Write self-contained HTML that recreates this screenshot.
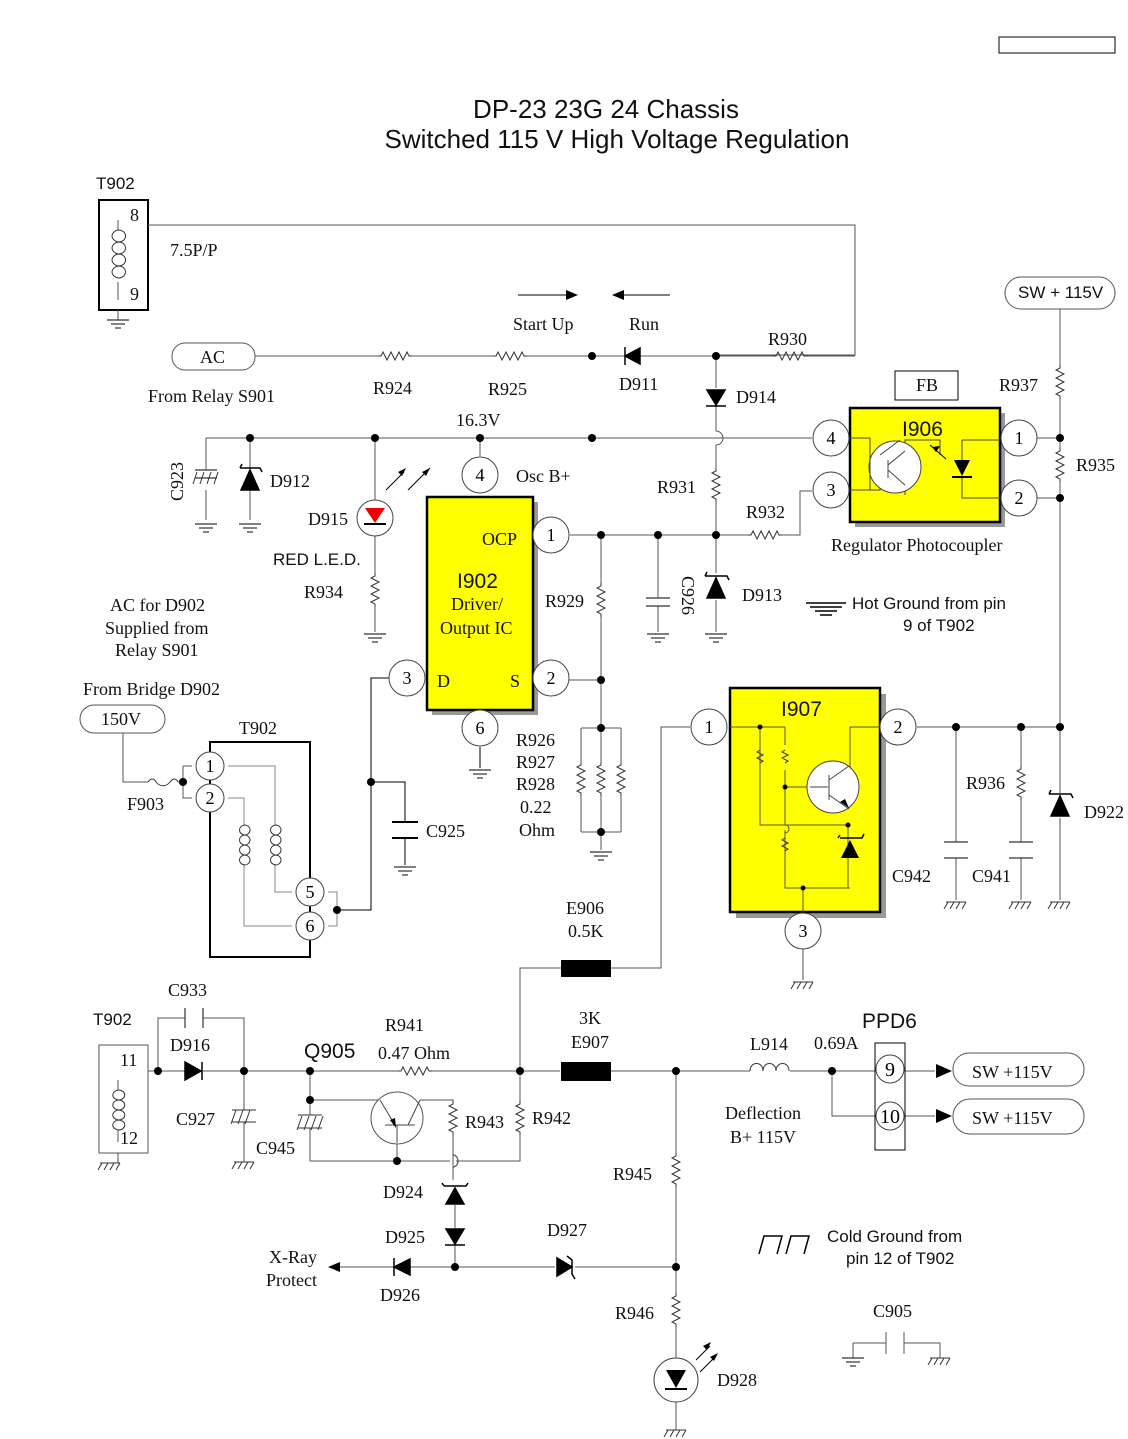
<!DOCTYPE html>
<html><head><meta charset="utf-8"><style>
html,body{margin:0;padding:0;background:#fff}
svg{display:block}
.s{font-family:"Liberation Serif",serif;font-size:18px;fill:#111}
.a{font-family:"Liberation Sans",sans-serif;fill:#111}
</style></head><body>
<svg width="1128" height="1439" viewBox="0 0 1128 1439" xmlns="http://www.w3.org/2000/svg">
<defs>
<path id="rh" d="M-17,0 h3 l2,-4 l4,8 l4,-8 l4,8 l4,-8 l4,8 l4,-8 l2,4 h3" fill="none" stroke="#333" stroke-width="1"/>
<path id="rv" d="M0,-17 v3 l-4,2 l8,4 l-8,4 l8,4 l-8,4 l8,4 l-8,4 l4,2 v3" fill="none" stroke="#333" stroke-width="1"/>
<g id="gh" stroke="#333" stroke-width="1.2"><line x1="-11" y1="0" x2="11" y2="0"/><line x1="-7" y1="4" x2="7" y2="4"/><line x1="-3" y1="8" x2="3" y2="8"/></g>
<g id="gc" stroke="#333" stroke-width="1"><line x1="-10" y1="0" x2="10" y2="0"/><line x1="-8" y1="0" x2="-12" y2="7"/><line x1="-2" y1="0" x2="-6" y2="7"/><line x1="4" y1="0" x2="0" y2="7"/><line x1="10" y1="0" x2="6" y2="7"/></g>
<circle id="dot" r="4" fill="#000"/>
<g id="pc"><circle r="18" fill="#fff" stroke="#444" stroke-width="1"/></g>
</defs>
<g fill="none" stroke="#555" stroke-width="1">
<rect x="999" y="37" width="116" height="16" stroke="#000"/>
<rect x="99" y="200" width="49" height="110" stroke="#000" stroke-width="2"/>
<path d="M148,225 H855 V355 H716"/>
<path d="M118,220 V230 M118,282 V300 M118,310 V320"/>
<path d="M118,230 c10,0 10,12 0,12 c10,0 10,12 0,12 c10,0 10,12 0,12 c10,0 10,12 0,12 M118,230 c-8,2 -8,10 0,12 M118,242 c-8,2 -8,10 0,12 M118,254 c-8,2 -8,10 0,12 M118,266 c-8,2 -8,10 0,12" stroke="#333"/>
<path d="M518,295 H570 M613,295 H670" stroke="#000"/>
<rect x="172" y="343" width="83" height="27" rx="13"/>
<path d="M255,356 H378 M412,356 H493 M527,356 H625 M640,356 H773 M807,356 H855"/>
<path d="M716,356 V388 M716,406 V431 M716,445 V468 M716,502 V573 M716,600 V632"/>
<path d="M716,431 a7,7 0 0 1 0,14"/>
<path d="M206,438 H812 M206,438 V470 M206,490 V520 M250,438 V468 M250,490 V520 M375,438 V500 M375,535 V573 M375,607 V632 M480,438 V456"/>
<path d="M570,535 H748 M782,535 H800 V491 H812 M601,535 V583 M601,617 V728 M658,535 V598 M658,606 V632 M569,680 H601"/>
<path d="M581,728 H621 M581,728 V762 M601,728 V762 M621,728 V762 M581,796 V832 M601,796 V832 M621,796 V832 M581,832 H621 M601,832 V850"/>
<path d="M389,678 H371 V910 H337 M371,782 H405 V822 M405,838 V865 M480,747 V768" stroke="#000"/>
<path d="M1060,309 V365 M1060,399 V448 M1060,482 V793 M1060,818 V900 M1000,438 H1060 M1000,498 H1060 M917,727 H1060 M956,727 V842 M956,858 V900 M1021,727 V766 M1021,800 V842 M1021,858 V900"/>
<path d="M690,727 H661 V968 H611 M561,968 H520 V1071"/>
<path d="M803,949 V980"/>
<rect x="80" y="705" width="85" height="28" rx="14"/>
<path d="M123,733 V782 H148 M178,782 H183 M183,766 H192 M183,766 V798 H192"/>
<path d="M148,782 c3,-4 6,-4 8,0 M156,782 c4,5 10,5 14,0 c3,-4 6,-4 8,0" stroke="#333"/>
<rect x="210" y="742" width="100" height="215" stroke="#000" stroke-width="2" fill="none"/>
<path d="M228,766 H275 V825 M275,864 V892 H292 M228,798 H244 V825 M244,864 V926 H292 M328,892 H337 V926 H328" stroke="#888"/>
<path d="M244,825 c8,0 8,10 0,10 c8,0 8,10 0,10 c8,0 8,10 0,10 c8,0 8,10 0,10 M244,825 c-6,2 -6,8 0,10 M244,835 c-6,2 -6,8 0,10 M244,845 c-6,2 -6,8 0,10 M244,855 c-6,2 -6,8 0,10 M275,825 c8,0 8,10 0,10 c8,0 8,10 0,10 c8,0 8,10 0,10 c8,0 8,10 0,10 M275,825 c-6,2 -6,8 0,10 M275,835 c-6,2 -6,8 0,10 M275,845 c-6,2 -6,8 0,10 M275,855 c-6,2 -6,8 0,10" stroke="#333"/>
<rect x="99" y="1045" width="49" height="108"/>
<path d="M148,1071 H185 M203,1071 H400 M430,1071 H560 M611,1071 H750 M790,1071 H875 M118,1080 V1090 M118,1130 V1142 M118,1153 V1163 M158,1071 V1018 H185 M203,1018 H244 V1071 M244,1071 V1110 M244,1122 V1162"/>
<path d="M118,1090 c9,0 9,10 0,10 c9,0 9,10 0,10 c9,0 9,10 0,10 c9,0 9,10 0,10 M118,1090 c-7,2 -7,8 0,10 M118,1100 c-7,2 -7,8 0,10 M118,1110 c-7,2 -7,8 0,10 M118,1120 c-7,2 -7,8 0,10" stroke="#333"/>
<path d="M310,1071 V1115 M310,1128 V1161 H450 M456,1161 H520 V1134 M520,1071 V1101 M310,1100 H380 M420,1100 H453 V1101 M453,1135 V1180 M397,1143 V1161"/>
<path d="M453,1155 a5,6 0 0 1 0,12" stroke-width="1.2"/>
<path d="M455,1185 V1185 M455,1205 V1228 M455,1245 V1267 M340,1267 H395 M410,1267 H555 M575,1267 H676 M676,1071 V1153 M676,1187 V1293 M676,1327 V1360 M676,1400 V1430"/>
<path d="M832,1071 H875 M832,1071 V1116 H875 M905,1071 H935 M905,1116 H935"/>
<rect x="875" y="1043" width="30" height="107" stroke="#000"/>
<rect x="953" y="1053" width="131" height="33" rx="16"/>
<rect x="953" y="1099" width="131" height="35" rx="17"/>
<path d="M750,1071 c0,-10 13,-10 13,0 c0,-10 13,-10 13,0 c0,-10 13,-10 13,0" stroke="#333"/>
<path d="M853,1343 H886 M904,1343 H940 V1358 M853,1343 V1358 M886,1332 V1354 M904,1332 V1354"/>
<path d="M759,1254 l5,-18 h18 l-5,18 M786,1254 l5,-18 h18 l-5,18" stroke="#000" stroke-width="1.5"/>
<path d="M806,603 h40 M810,607 h32 M815,611 h22 M820,615 h12" stroke="#000" stroke-width="1.5"/>
</g>
<g fill="#000">
<polygon points="578,295 566,290 566,300"/>
<polygon points="612,295 624,290 624,300"/>
<polygon points="328,1267 340,1262 340,1272"/>
<polygon points="952,1071 936,1064 936,1078"/>
<polygon points="952,1116 936,1109 936,1123"/>
</g>
<use href="#rh" x="395" y="356"/><use href="#rh" x="510" y="356"/><use href="#rh" x="790" y="356"/><use href="#rh" x="765" y="535"/><use href="#rh" x="415" y="1071"/>
<use href="#rv" x="716" y="485"/><use href="#rv" x="375" y="590"/><use href="#rv" x="601" y="600"/><use href="#rv" x="581" y="779"/><use href="#rv" x="601" y="779"/><use href="#rv" x="621" y="779"/>
<use href="#rv" x="1060" y="382"/><use href="#rv" x="1060" y="465"/><use href="#rv" x="1021" y="783"/><use href="#rv" x="453" y="1118"/><use href="#rv" x="520" y="1118"/><use href="#rv" x="676" y="1170"/><use href="#rv" x="676" y="1310"/>
<use href="#gh" x="118" y="320"/><use href="#gh" x="206" y="524"/><use href="#gh" x="250" y="524"/><use href="#gh" x="375" y="634"/><use href="#gh" x="716" y="634"/><use href="#gh" x="658" y="634"/><use href="#gh" x="480" y="770"/><use href="#gh" x="601" y="852"/><use href="#gh" x="405" y="867"/><use href="#gh" x="853" y="1358"/>
<use href="#gc" x="956" y="902"/><use href="#gc" x="1021" y="902"/><use href="#gc" x="1060" y="902"/><use href="#gc" x="803" y="982"/><use href="#gc" x="110" y="1163"/><use href="#gc" x="244" y="1162"/><use href="#gc" x="676" y="1430"/><use href="#gc" x="940" y="1358"/>
<g stroke="#333" stroke-width="1.2" fill="none">
<path d="M195,470 h22 M195,478 h22"/><path d="M193,484 l4,-12 M200,484 l4,-12 M207,484 l4,-12 M214,484 l4,-12" stroke-width="1"/>
<path d="M646,598 h24 M646,606 h24"/>
<path d="M392,822 h26 M392,838 h26" stroke="#000" stroke-width="2"/>
<path d="M944,842 h24 M944,858 h24 M1009,842 h24 M1009,858 h24"/>
<path d="M185,1008 v20 M203,1008 v20"/>
<path d="M232,1110 h24 M232,1122 h24 M231,1124 l5,-14 M238,1124 l5,-14 M245,1124 l5,-14" stroke-width="1"/>
<path d="M298,1115 h24 M298,1128 h24 M297,1130 l5,-14 M304,1130 l5,-14 M311,1130 l5,-14 M318,1130 l5,-14" stroke-width="1"/>
</g>
<g fill="#000" stroke="#000" stroke-width="1.5">
<polygon points="625,356 640,348 640,364"/><line x1="625" y1="347" x2="625" y2="365"/>
<polygon points="707,390 725,390 716,405"/><line x1="706" y1="406" x2="726" y2="406"/>
<polygon points="241,490 259,490 250,470"/><path d="M240,468 l2,-4 M240,468 h20 l2,4" fill="none"/>
<polygon points="707,598 725,598 716,578"/><path d="M705,576 l2,-4 M705,576 h22 l2,4" fill="none"/>
<polygon points="1051,816 1069,816 1060,796"/><path d="M1049,794 l2,-4 M1049,794 h22 l2,4" fill="none"/>
<polygon points="185,1062 185,1080 201,1071"/><line x1="202" y1="1062" x2="202" y2="1080"/>
<polygon points="446,1204 464,1204 455,1188"/><path d="M442,1183 l2,3 M444,1186 h22 l2,-3" fill="none"/>
<polygon points="446,1229 464,1229 455,1244"/><line x1="445" y1="1245" x2="465" y2="1245"/>
<polygon points="394,1267 410,1259 410,1275"/><line x1="394" y1="1258" x2="394" y2="1276"/>
<polygon points="557,1258 557,1276 572,1267"/><path d="M567,1256 l5,4 V1274 l3,5" fill="none"/>
</g>
<circle cx="375" cy="518" r="18" fill="#fff" stroke="#444"/>
<polygon points="365,508 385,508 375,523" fill="#e00"/><line x1="364" y1="524" x2="386" y2="524" stroke="#000" stroke-width="2"/>
<path d="M386,490 l18,-18 M408,490 l22,-22" stroke="#000"/><polygon points="406,468 398,472 402,476"/><polygon points="430,468 422,472 426,476"/>
<circle cx="676" cy="1380" r="22" fill="#fff" stroke="#444"/>
<polygon points="666,1370 686,1370 676,1388"/><line x1="665" y1="1389" x2="687" y2="1389" stroke="#000" stroke-width="2"/>
<path d="M696,1360 l14,-14 M700,1372 l16,-16" stroke="#000"/><polygon points="711,1342 703,1346 707,1350"/><polygon points="718,1353 710,1357 714,1361"/>
<rect x="561" y="960" width="50" height="17" fill="#000"/>
<rect x="561" y="1062" width="50" height="19" fill="#000"/>
<rect x="432" y="502" width="106" height="213" fill="#999"/>
<rect x="427" y="497" width="106" height="213" fill="#ff0" stroke="#000" stroke-width="2.5"/>
<rect x="855" y="413" width="150" height="114" fill="#999"/>
<rect x="850" y="408" width="150" height="114" fill="#ff0" stroke="#000" stroke-width="2.5"/>
<rect x="895" y="371" width="63" height="29" fill="#fff" stroke="#000"/>
<g stroke="#444" fill="none">
<path d="M850,438 H870 M850,490 H880 V480 M905,450 V440 H940 V455 M962,440 H1000 M962,440 V460 M962,478 V498 H1000 M905,485 V495"/>
</g>
<circle cx="895" cy="467" r="26" fill="#fff" stroke="#444"/>
<path d="M870,438 V490 M880,455 l20,-15 M888,460 V478 M888,465 l17,-14 M888,470 l17,15" stroke="#444" fill="none"/>
<polygon points="954,460 970,460 962,476" fill="#000"/><line x1="952" y1="477" x2="972" y2="477" stroke="#000" stroke-width="2"/>
<path d="M930,445 l16,14" stroke="#000"/><polygon points="932,447 940,446 936,452"/>
<rect x="736" y="694" width="150" height="224" fill="#999"/>
<rect x="730" y="688" width="150" height="224" fill="#ff0" stroke="#000" stroke-width="2.5"/>
<g stroke="#555" fill="none" stroke-width="1">
<path d="M730,727 H785 M760,727 V825 H848 M785,727 V745 M785,770 V825 M785,830 V888 H850 M785,825 a4,4 0 0 1 0,8 M850,727 H880 M850,727 V768 M848,825 V888 M803,888 V912 M785,787 H810"/>
<path d="M760,750 l-3,2 6,3 -6,3 6,3 -3,2 M785,750 l-3,2 6,3 -6,3 6,3 -3,2 M785,838 l-3,2 6,3 -6,3 6,3 -3,2" stroke="#333"/>
</g>
<circle cx="833" cy="787" r="26" fill="#fff" stroke="#444"/>
<path d="M810,787 H828 M829,775 V800 M829,780 l20,-14 M829,795 l20,14" stroke="#444" fill="none"/>
<polygon points="849,808 840,802 845,799"/>
<polygon points="841,858 859,858 850,840"/><path d="M838,838 l2,-3 M840,838 h22 l2,-4" stroke="#000" fill="none" stroke-width="1.5"/>
<circle cx="397" cy="1118" r="26" fill="#fff" stroke="#555"/>
<path d="M380,1100 l15,25 M420,1100 l-12,25 M385,1125 H415 M397,1125 V1143" stroke="#444" fill="none"/>
<polygon points="396,1128 390,1120 395,1118"/>
<g font-family="Liberation Serif,serif" font-size="18" text-anchor="middle">
<g><use href="#pc" x="480" y="475"/><text x="480" y="481">4</text></g>
<g><use href="#pc" x="551" y="535"/><text x="551" y="541">1</text></g>
<g><use href="#pc" x="551" y="678"/><text x="551" y="684">2</text></g>
<g><use href="#pc" x="407" y="678"/><text x="407" y="684">3</text></g>
<g><use href="#pc" x="480" y="728"/><text x="480" y="734">6</text></g>
<g><use href="#pc" x="831" y="438"/><text x="831" y="444">4</text></g>
<g><use href="#pc" x="831" y="490"/><text x="831" y="496">3</text></g>
<g><use href="#pc" x="1019" y="438"/><text x="1019" y="444">1</text></g>
<g><use href="#pc" x="1019" y="498"/><text x="1019" y="504">2</text></g>
<g><use href="#pc" x="709" y="727"/><text x="709" y="733">1</text></g>
<g><use href="#pc" x="898" y="727"/><text x="898" y="733">2</text></g>
<g><use href="#pc" x="803" y="931"/><text x="803" y="937">3</text></g>
<circle cx="210" cy="766" r="14" fill="#fff" stroke="#444"/><text x="210" y="772">1</text>
<circle cx="210" cy="798" r="14" fill="#fff" stroke="#444"/><text x="210" y="804">2</text>
<circle cx="310" cy="892" r="14" fill="#fff" stroke="#444"/><text x="310" y="898">5</text>
<circle cx="310" cy="926" r="14" fill="#fff" stroke="#444"/><text x="310" y="932">6</text>
<circle cx="890" cy="1069" r="14" fill="#fff" stroke="#444"/><text x="890" y="1076" font-size="20">9</text>
<circle cx="890" cy="1116" r="14" fill="#fff" stroke="#444"/><text x="890" y="1123" font-size="20">10</text>
</g>
<g>
<use href="#dot" x="592" y="356"/><use href="#dot" x="716" y="356"/><use href="#dot" x="250" y="438"/><use href="#dot" x="375" y="438"/><use href="#dot" x="480" y="438"/><use href="#dot" x="592" y="438"/>
<use href="#dot" x="601" y="535"/><use href="#dot" x="658" y="535"/><use href="#dot" x="716" y="535"/><use href="#dot" x="601" y="680"/><use href="#dot" x="601" y="728"/><use href="#dot" x="601" y="832"/>
<use href="#dot" x="1060" y="438"/><use href="#dot" x="1060" y="498"/><use href="#dot" x="956" y="727"/><use href="#dot" x="1021" y="727"/><use href="#dot" x="1060" y="727"/>
<use href="#dot" x="371" y="782"/><use href="#dot" x="337" y="910"/><use href="#dot" x="183" y="782"/>
<use href="#dot" x="158" y="1071"/><use href="#dot" x="244" y="1071"/><use href="#dot" x="310" y="1071"/><use href="#dot" x="310" y="1100"/><use href="#dot" x="397" y="1161"/><use href="#dot" x="520" y="1071"/><use href="#dot" x="676" y="1071"/><use href="#dot" x="832" y="1071"/><use href="#dot" x="455" y="1267"/><use href="#dot" x="676" y="1267"/>
<circle cx="760" cy="727" r="2.5"/><circle cx="785" cy="787" r="2.5"/><circle cx="848" cy="825" r="2.5"/><circle cx="803" cy="888" r="2.5"/>
</g>
<text class="a" x="606" y="118" font-size="26" text-anchor="middle">DP-23 23G 24 Chassis</text>
<text class="a" x="617" y="148" font-size="26" text-anchor="middle">Switched 115 V High Voltage Regulation</text>
<text class="a" x="96" y="189" font-size="17">T902</text>
<g class="s">
<text x="130" y="221">8</text><text x="130" y="300">9</text>
<text x="170" y="256">7.5P/P</text>
<text x="513" y="330">Start Up</text><text x="629" y="330">Run</text>
<text x="200" y="363">AC</text>
<text x="148" y="402">From Relay S901</text>
<text x="373" y="394">R924</text><text x="488" y="395">R925</text>
<text x="619" y="390">D911</text><text x="768" y="345">R930</text>
<text x="736" y="403">D914</text><text x="456" y="426">16.3V</text>
<text x="999" y="391">R937</text><text x="1076" y="471">R935</text>
<text x="916" y="391">FB</text>
<text x="270" y="487">D912</text><text x="308" y="525">D915</text>
<text x="516" y="482">Osc B+</text><text x="657" y="493">R931</text><text x="746" y="518">R932</text>
<text x="482" y="545">OCP</text>
<text x="451" y="610">Driver/</text><text x="440" y="634">Output IC</text>
<text x="437" y="687">D</text><text x="510" y="687">S</text>
<text x="304" y="598">R934</text><text x="545" y="607">R929</text><text x="742" y="601">D913</text>
<text x="831" y="551">Regulator Photocoupler</text>
<text x="110" y="611">AC for D902</text><text x="105" y="634">Supplied from</text><text x="115" y="656">Relay S901</text>
<text x="83" y="695">From Bridge D902</text>
<text x="101" y="725">150V</text>
<text x="239" y="734">T902</text><text x="127" y="810">F903</text>
<text x="426" y="837">C925</text>
<text x="516" y="746">R926</text><text x="516" y="768">R927</text><text x="516" y="790">R928</text><text x="520" y="813">0.22</text><text x="519" y="836">Ohm</text>
<text x="966" y="789">R936</text><text x="1084" y="818">D922</text>
<text x="892" y="882">C942</text><text x="972" y="882">C941</text>
<text x="566" y="914">E906</text><text x="568" y="937">0.5K</text>
<text x="168" y="996">C933</text>
<text x="170" y="1051">D916</text><text x="385" y="1031">R941</text><text x="378" y="1059">0.47 Ohm</text>
<text x="579" y="1024">3K</text><text x="571" y="1048">E907</text>
<text x="750" y="1050">L914</text><text x="814" y="1049">0.69A</text>
<text x="120" y="1066">11</text><text x="120" y="1144">12</text>
<text x="176" y="1125">C927</text><text x="256" y="1154">C945</text>
<text x="465" y="1128">R943</text><text x="532" y="1124">R942</text>
<text x="725" y="1119">Deflection</text><text x="730" y="1143">B+ 115V</text>
<text x="972" y="1078">SW +115V</text><text x="972" y="1124">SW +115V</text>
<text x="613" y="1180">R945</text><text x="383" y="1198">D924</text>
<text x="385" y="1243">D925</text><text x="547" y="1236">D927</text>
<text x="269" y="1263">X-Ray</text><text x="266" y="1286">Protect</text>
<text x="380" y="1301">D926</text>
<text x="615" y="1319">R946</text><text x="873" y="1317">C905</text>
<text x="717" y="1386">D928</text>
</g>
<text class="s" transform="translate(183,462) rotate(-90)" text-anchor="end" x="0" y="0">C923</text>
<text class="s" transform="translate(682,576) rotate(90)">C926</text>
<g class="a">
<text x="1018" y="298" font-size="17">SW + 115V</text>
<text x="273" y="565" font-size="17">RED L.E.D.</text>
<text x="457" y="588" font-size="21">I902</text>
<text x="902" y="436" font-size="21">I906</text>
<text x="781" y="716" font-size="21">I907</text>
<text x="852" y="609" font-size="17">Hot Ground from pin</text>
<text x="903" y="631" font-size="17">9 of T902</text>
<text x="93" y="1025" font-size="17">T902</text>
<text x="304" y="1058" font-size="21">Q905</text>
<text x="862" y="1028" font-size="21">PPD6</text>
<text x="827" y="1242" font-size="17">Cold Ground from</text>
<text x="846" y="1264" font-size="17">pin 12 of T902</text>
</g>
<rect x="1005" y="277" width="110" height="32" rx="16" fill="none" stroke="#555"/>
</svg>
</body></html>
